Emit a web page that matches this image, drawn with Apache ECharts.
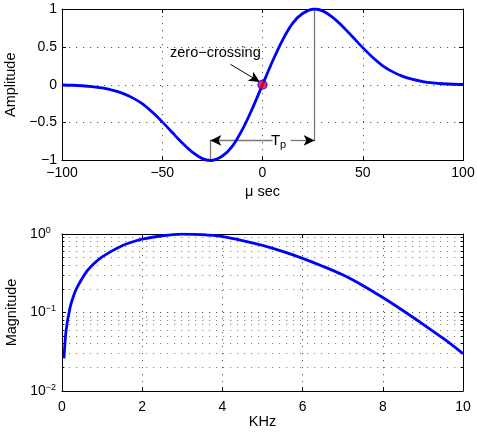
<!DOCTYPE html>
<html><head><meta charset="utf-8">
<script src="https://cdn.jsdelivr.net/npm/echarts@6/dist/echarts.min.js"></script>
<style>html,body{margin:0;padding:0;background:#fff}#c{width:477px;height:434px}</style>
</head><body><div id="c"></div>
<script>
// ---- data ----
const pulseTime = [-100,-95,-90,-85,-80,-75,-70,-65,-60,-55,-50,-45,-40,-35,-30,-26,-20,-15,-10,-5,0,5,10,15,20,26,30,35,40,45,50,55,60,65,70,75,80,85,90,95,100];
const pulseAmp = [-0.003,-0.0065,-0.013,-0.024,-0.042,-0.07,-0.11,-0.17,-0.25,-0.36,-0.49,-0.63,-0.77,-0.89,-0.975,-1.0,-0.94,-0.81,-0.59,-0.31,0,0.31,0.59,0.81,0.94,1.0,0.975,0.89,0.77,0.63,0.49,0.36,0.25,0.17,0.11,0.07,0.042,0.024,0.013,0.0065,0.003];
const freqKHz = [0.05,0.1,0.2,0.3,0.4,0.6,0.8,1.0,1.25,1.5,1.75,2.0,2.5,3.0,3.5,4.0,4.5,5.0,5.5,6.0,6.5,7.0,7.5,8.0,8.5,9.0,9.5,10];
const magnitude = [0.026,0.058,0.115,0.17,0.22,0.325,0.42,0.51,0.61,0.71,0.79,0.86,0.95,0.995,0.98,0.927,0.826,0.716,0.60,0.49,0.389,0.302,0.221,0.155,0.106,0.071,0.047,0.030];
const zeroCrossing = [0, 0];
const peakTime = 26;          // T_p: time of the pulse peaks (±)
const tpLevel = -0.735;       // height of the T_p dimension arrow
const tpLabelTime = 8;
const tpGap = [5, 14];
const zcText = 'zero\u2212crossing';
const zcTextAt = [-23.5, 0.42];
const zcArrow = [[-16, 0.27], [-1.3, 0.037]];
const timeRange = [-100, 100], timeStep = 50;
const ampRange = [-1, 1], ampStep = 0.5;
const freqRange = [0, 10], freqStep = 2;
const magRange = [0.01, 1];
const magMinor = [0.02,0.03,0.04,0.05,0.06,0.07,0.08,0.09,0.2,0.3,0.4,0.5,0.6,0.7,0.8,0.9];

// ---- chart ----
const FONT = '"Liberation Sans", Arial, Helvetica, sans-serif';
const minus = v => String(v).replace('-', '\u2212');
const gridDot = { color: '#555', width: 1, type: [1.2, 5.8] };
const minorDot = { color: '#888', width: 1, type: [1.2, 5.8] };
const black = { color: '#000', width: 1, type: 'solid' };

function mirrorX(grid, min, max, interval) {
  return { gridIndex: grid, type: 'value', position: 'top', min, max, interval,
    axisLine: { show: true, onZero: false, lineStyle: { color: '#000', width: 1 } },
    axisTick: { show: true, inside: true, length: 4, lineStyle: { color: '#000' } },
    axisLabel: { show: false }, splitLine: { show: false } };
}
function mirrorY(grid, min, max, interval, type) {
  const o = { gridIndex: grid, type: type || 'value', position: 'right', min, max,
    axisLine: { show: true, onZero: false, lineStyle: { color: '#000', width: 1 } },
    axisTick: { show: true, inside: true, length: 4, lineStyle: { color: '#000' } },
    axisLabel: { show: false }, splitLine: { show: false } };
  if (interval) o.interval = interval;
  return o;
}

const minorGridLines = magMinor.map(v => ({ yAxis: v, lineStyle: minorDot }));
const minorTicksL = magMinor.map(v => [{ coord: [freqRange[0], v], lineStyle: black }, { coord: [freqRange[0] + 0.06, v] }]);
const minorTicksR = magMinor.map(v => [{ coord: [freqRange[1] - 0.06, v], lineStyle: black }, { coord: [freqRange[1], v] }]);

const arrowHead = { symbol: 'arrow', symbolSize: [8, 11] };
const supStyle = { fontSize: 9, lineHeight: 10, verticalAlign: 'top', color: '#000', fontFamily: FONT };

const option = {
  animation: false,
  backgroundColor: '#fff',
  textStyle: { fontFamily: FONT },
  grid: [
    { left: 62, right: 14, top: 9, height: 151.5, outerBoundsMode: 'none' },
    { left: 62, right: 14, top: 234, height: 157, outerBoundsMode: 'none' }
  ],
  xAxis: [
    { gridIndex: 0, type: 'value', min: timeRange[0], max: timeRange[1], interval: timeStep,
      name: '\u03bc sec', nameLocation: 'middle', nameGap: 24,
      nameTextStyle: { fontSize: 14.5, color: '#000', fontFamily: FONT },
      axisLine: { show: true, onZero: false, lineStyle: { color: '#000', width: 1 } },
      axisTick: { show: true, inside: true, length: 4, lineStyle: { color: '#000' } },
      axisLabel: { fontSize: 14, color: '#000', margin: 6, formatter: minus, fontFamily: FONT },
      splitLine: { show: true, lineStyle: gridDot } },
    mirrorX(0, timeRange[0], timeRange[1], timeStep),
    { gridIndex: 1, type: 'value', min: freqRange[0], max: freqRange[1], interval: freqStep,
      name: 'KHz', nameLocation: 'middle', nameGap: 20,
      nameTextStyle: { fontSize: 14.5, color: '#000', fontFamily: FONT },
      axisLine: { show: true, onZero: false, lineStyle: { color: '#000', width: 1 } },
      axisTick: { show: true, inside: true, length: 4, lineStyle: { color: '#000' } },
      axisLabel: { fontSize: 14, color: '#000', margin: 9, fontFamily: FONT },
      splitLine: { show: true, lineStyle: gridDot } },
    mirrorX(1, freqRange[0], freqRange[1], freqStep)
  ],
  yAxis: [
    { gridIndex: 0, type: 'value', min: ampRange[0], max: ampRange[1], interval: ampStep,
      name: 'Amplitude', nameLocation: 'middle', nameGap: 38,
      nameTextStyle: { fontSize: 14.5, color: '#000', fontFamily: FONT },
      axisLine: { show: true, onZero: false, lineStyle: { color: '#000', width: 1 } },
      axisTick: { show: true, inside: true, length: 4, lineStyle: { color: '#000' } },
      axisLabel: { fontSize: 14, color: '#000', margin: 5, formatter: minus, fontFamily: FONT },
      splitLine: { show: true, lineStyle: gridDot } },
    mirrorY(0, ampRange[0], ampRange[1], ampStep),
    { gridIndex: 1, type: 'log', logBase: 10, min: magRange[0], max: magRange[1],
      name: 'Magnitude', nameLocation: 'middle', nameGap: 38,
      nameTextStyle: { fontSize: 14.5, color: '#000', fontFamily: FONT },
      axisLine: { show: true, onZero: false, lineStyle: { color: '#000', width: 1 } },
      axisTick: { show: true, inside: true, length: 4, lineStyle: { color: '#000' } },
      axisLabel: { margin: 6, color: '#000', fontFamily: FONT,
        formatter: v => {
          const e = Math.round(Math.log10(v));
          return '{b|10}{' + (e < 0 ? 's' : 's0') + '|' + minus(e) + '}';
        },
        rich: { b: { fontSize: 14, lineHeight: 16, color: '#000', fontFamily: FONT },
                s: supStyle,
                s0: Object.assign({}, supStyle, { padding: [0, 5.3, 0, 0] }) } },
      splitLine: { show: true, lineStyle: gridDot } },
    mirrorY(1, magRange[0], magRange[1], null, 'log')
  ],
  series: [
    { type: 'line', xAxisIndex: 0, yAxisIndex: 0, showSymbol: false, smooth: 0.3,
      data: pulseTime.map((t, i) => [t, pulseAmp[i]]),
      lineStyle: { color: '#0000ff', width: 2.8 }, z: 5 },
    { type: 'scatter', xAxisIndex: 0, yAxisIndex: 0, data: [zeroCrossing], symbolSize: 9,
      itemStyle: { color: '#ff0000', borderColor: '#0000ff', borderWidth: 1.2 }, z: 6,
      markLine: { silent: true, symbol: ['none', 'none'], animation: false,
        label: { show: false },
        lineStyle: { color: '#777', width: 1.3, type: 'solid' },
        data: [
          [{ coord: [-peakTime, ampRange[0]] }, { coord: [-peakTime, tpLevel] }],
          [{ coord: [peakTime, ampRange[1]] }, { coord: [peakTime, tpLevel] }],
          [{ coord: [-peakTime, tpLevel] }, { coord: [tpGap[0], tpLevel] }],
          [{ coord: [tpGap[1], tpLevel] }, { coord: [peakTime, tpLevel] }],
          [Object.assign({ coord: [-peakTime, tpLevel], lineStyle: black }, arrowHead), { coord: [-peakTime + 4, tpLevel] }],
          [{ coord: [peakTime - 4, tpLevel], lineStyle: black }, Object.assign({ coord: [peakTime, tpLevel] }, arrowHead)],
          [{ coord: zcArrow[0], lineStyle: black }, Object.assign({ coord: zcArrow[1] }, arrowHead)]
        ] },
      markPoint: { silent: true, symbol: 'circle', symbolSize: 0,
        data: [
          { coord: zcTextAt, label: { show: true, formatter: zcText, fontSize: 14.5, color: '#000',
              fontFamily: FONT, position: 'inside' } },
          { coord: [tpLabelTime, tpLevel], label: { show: true, position: 'inside', offset: [0, 0],
              formatter: '{t|T}{p|p}',
              rich: { t: { fontSize: 15, lineHeight: 20, color: '#000', fontFamily: FONT },
                      p: { fontSize: 11, lineHeight: 11, verticalAlign: 'bottom', color: '#000', fontFamily: FONT } } } }
        ] } },
    { type: 'line', xAxisIndex: 2, yAxisIndex: 2, showSymbol: false, smooth: 0.3,
      data: freqKHz.map((f, i) => [f, magnitude[i]]),
      lineStyle: { color: '#0000ff', width: 2.8 }, z: 5,
      markLine: { silent: true, symbol: ['none', 'none'], animation: false, label: { show: false },
        data: minorGridLines.concat(minorTicksL, minorTicksR) } }
  ]
};
const chart = echarts.init(document.getElementById('c'), null, { renderer: 'canvas' });
chart.setOption(option);
</script>
</body></html>
